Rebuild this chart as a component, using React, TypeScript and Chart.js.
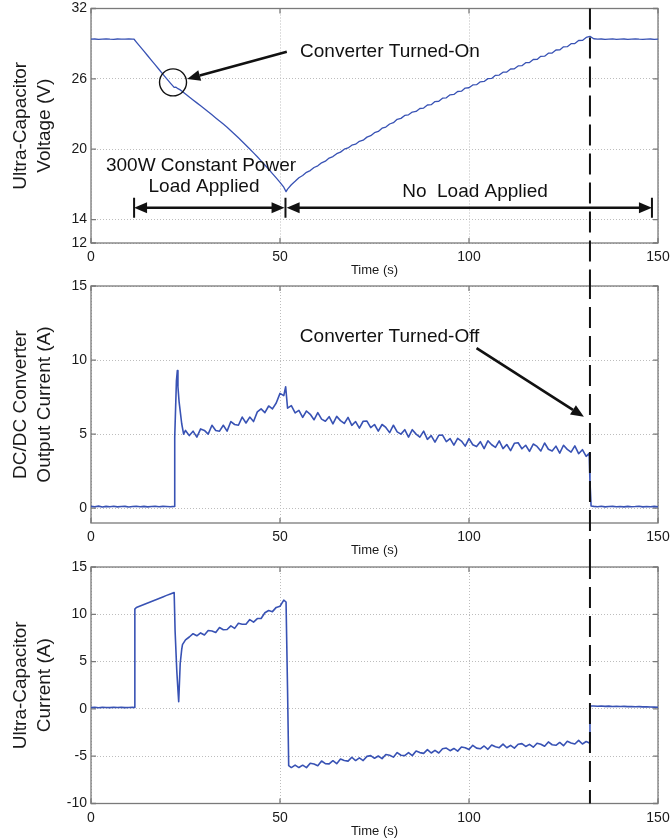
import React, { useEffect, useRef } from 'react';
import { Chart, registerables } from 'chart.js';

Chart.register(...registerables);

const FONT = '"Liberation Sans", Arial, Helvetica, sans-serif';
const LINE_COLOR = '#3852b4';
const INK = '#111111';

// ---- axis ticks ----
const timeTicks = [0, 50, 100, 150];
const voltageTicks = [12, 14, 20, 26, 32];
const outCurrentTicks = [0, 5, 10, 15];
const ucCurrentTicks = [-10, -5, 0, 5, 10, 15];

const turnOffTime = 132;

// ---- ultra-capacitor voltage (V), samples at t = 0,1,...,150 s ----
const ucVoltage = [
  29.38, 29.40, 29.37, 29.39, 29.41, 29.38, 29.37, 29.40, 29.39, 29.38, 29.41, 29.38,
  29.14, 28.75, 28.36, 27.97, 27.58, 27.19, 26.80, 26.41, 26.02, 25.64,
  25.27, 25.16, 24.96, 24.70, 24.45, 24.20, 23.95, 23.70, 23.45, 23.19,
  22.93, 22.67, 22.41, 22.14, 21.87, 21.58, 21.28, 20.97, 20.66, 20.34,
  20.02, 19.69, 19.35, 19.00, 18.65, 18.29, 17.92, 17.55, 17.17, 16.76,
  16.60, 16.97, 17.26, 17.57, 17.76, 18.03, 18.18, 18.44, 18.58, 18.84,
  18.98, 19.24, 19.37, 19.62, 19.75, 20.00, 20.11, 20.34, 20.43, 20.67,
  20.77, 21.03, 21.15, 21.41, 21.52, 21.79, 21.89, 22.15, 22.26, 22.55,
  22.63, 22.88, 22.93, 23.17, 23.22, 23.47, 23.51, 23.77, 23.80, 24.06,
  24.09, 24.35, 24.38, 24.64, 24.67, 24.92, 24.95, 25.21, 25.24, 25.48,
  25.50, 25.75, 25.78, 26.02, 26.04, 26.30, 26.32, 26.57, 26.58, 26.84,
  26.86, 27.10, 27.12, 27.38, 27.39, 27.65, 27.66, 27.92, 27.93, 28.19,
  28.20, 28.46, 28.47, 28.73, 28.74, 29.00, 29.01, 29.27, 29.28, 29.53,
  29.62, 29.42, 29.38, 29.40, 29.37, 29.39, 29.41, 29.36, 29.38, 29.40,
  29.37, 29.39, 29.41, 29.38, 29.36, 29.39, 29.40, 29.37, 29.38,
];
const ucVoltageExtraT = [11.4, 22.4, 23.5, 51.6];
const ucVoltageExtraV = [29.38, 25.30, 25.08, 16.38];

// ---- DC/DC converter output current (A), t = 0..150 s ----
const outCurrent = [
  0.12, 0.10, 0.14, 0.08, 0.12, 0.10, 0.13, 0.09, 0.11, 0.12,
  0.08, 0.11, 0.13, 0.10, 0.12, 0.09, 0.11, 0.13, 0.10, 0.12,
  0.11, 0.10, 0.12, 8.20, 5.70, 5.25, 4.90, 5.20, 4.80, 5.35,
  5.25, 5.00, 5.60, 5.25, 5.20, 5.60, 5.20, 5.85, 5.65, 5.60,
  6.15, 5.75, 6.15, 5.85, 6.50, 6.70, 6.45, 6.90, 6.70, 7.10,
  7.75, 7.60, 6.75, 6.92, 6.43, 6.60, 6.13, 6.56, 6.34, 5.97,
  6.45, 6.01, 5.87, 6.18, 5.69, 6.20, 5.91, 5.72, 6.13, 5.59,
  5.85, 5.41, 5.87, 5.88, 5.44, 5.65, 5.20, 5.65, 5.45, 5.10,
  5.60, 5.15, 5.00, 5.30, 4.80, 5.30, 5.00, 4.80, 5.20, 4.65,
  4.90, 4.46, 4.92, 4.93, 4.49, 4.70, 4.26, 4.72, 4.53, 4.19,
  4.70, 4.28, 4.16, 4.49, 4.02, 4.55, 4.28, 4.11, 4.54, 4.02,
  4.30, 3.89, 4.38, 4.42, 4.01, 4.25, 3.84, 4.33, 4.17, 3.86,
  4.40, 3.98, 3.86, 4.19, 3.72, 4.25, 3.97, 3.79, 4.21, 3.68,
  3.95, 3.50, 1.80, 0.12, 0.10, 0.13, 0.09, 0.11, 0.12, 0.10,
  0.11, 0.09, 0.12, 0.10, 0.11, 0.13, 0.09, 0.11, 0.10, 0.12, 0.10,
];
const outCurrentExtraT = [22.15, 22.6, 22.85, 23.3, 24.5, 51.5, 131.8, 132.3];
const outCurrentExtraV = [4.8, 8.6, 9.3, 7.2, 5.0, 8.2, 3.7, 0.15];

// ---- ultra-capacitor current (A), t = 0..150 s ----
const ucCurrent = [
  0.14, 0.17, 0.12, 0.16, 0.15, 0.13, 0.17, 0.14, 0.16, 0.13,
  0.15, 0.16, 10.72, 10.88, 11.04, 11.20, 11.36, 11.52, 11.68, 11.84,
  12.00, 12.15, 12.30, 2.00, 6.30, 7.30, 7.60, 7.95, 7.73, 8.03,
  7.81, 8.28, 8.24, 8.08, 8.60, 8.37, 8.39, 8.77, 8.51, 9.05,
  8.95, 8.95, 9.44, 9.17, 9.55, 9.56, 10.16, 10.40, 10.28, 10.73,
  10.85, 11.50, 2.00, -6.20, -5.94, -6.20, -5.95, -6.21, -5.75, -5.82,
  -6.00, -5.51, -5.78, -5.81, -5.48, -5.79, -5.30, -5.45, -5.52, -5.11,
  -5.46, -5.18, -5.46, -5.02, -4.94, -5.22, -4.98, -5.26, -4.82, -4.90,
  -5.10, -4.62, -4.90, -4.94, -4.62, -4.94, -4.46, -4.62, -4.70, -4.30,
  -4.66, -4.38, -4.66, -4.22, -4.14, -4.42, -4.18, -4.46, -4.02, -4.10,
  -4.30, -3.85, -4.15, -4.22, -3.92, -4.27, -3.81, -4.00, -4.10, -3.73,
  -4.11, -3.85, -4.15, -3.73, -3.67, -3.97, -3.75, -4.05, -3.63, -3.73,
  -3.95, -3.49, -3.79, -3.85, -3.55, -3.89, -3.43, -3.61, -3.71, -3.33,
  -3.71, -3.45, -1.50, 0.30, 0.28, 0.31, 0.27, 0.29, 0.26, 0.28,
  0.25, 0.27, 0.24, 0.26, 0.22, 0.24, 0.21, 0.23, 0.20, 0.19, 0.17,
];
const ucCurrentExtraT = [11.45, 11.6, 22.25, 22.7, 23.2, 23.6, 24.2, 51.6, 52.3, 131.85, 132.1];
const ucCurrentExtraV = [0.15, 10.55, 8.2, 4.0, 0.75, 4.8, 6.8, 11.3, -6.0, -3.6, 0.3];

function mergeSeries(grid: number[], extraT: number[], extraV: number[]) {
  const pts = grid.map((v, i) => ({ x: i, y: v }));
  extraT.forEach((t, i) => pts.push({ x: t, y: extraV[i] }));
  pts.sort((a, b) => a.x - b.x);
  return pts;
}

function arrowHead(ctx: CanvasRenderingContext2D, x1: number, y1: number, x2: number, y2: number, len: number, half: number) {
  const ang = Math.atan2(y2 - y1, x2 - x1);
  const bx = x2 - len * Math.cos(ang);
  const by = y2 - len * Math.sin(ang);
  ctx.beginPath();
  ctx.moveTo(x2, y2);
  ctx.lineTo(bx + half * Math.sin(ang), by - half * Math.cos(ang));
  ctx.lineTo(bx - half * Math.sin(ang), by + half * Math.cos(ang));
  ctx.closePath();
  ctx.fill();
  return { bx, by };
}

function drawArrow(ctx: CanvasRenderingContext2D, x1: number, y1: number, x2: number, y2: number, len: number, half: number, width: number) {
  const { bx, by } = arrowHead(ctx, x1, y1, x2, y2, len, half);
  ctx.beginPath();
  ctx.lineWidth = width;
  ctx.moveTo(x1, y1);
  ctx.lineTo(bx, by);
  ctx.stroke();
}

function drawDoubleArrow(ctx: CanvasRenderingContext2D, xa: number, xb: number, y: number) {
  const len = 13, half = 5.5;
  ctx.beginPath();
  ctx.lineWidth = 2.5;
  ctx.moveTo(xa + len - 1, y);
  ctx.lineTo(xb - len + 1, y);
  ctx.stroke();
  arrowHead(ctx, xb, y, xa, y, len, half);
  arrowHead(ctx, xa, y, xb, y, len, half);
}

type Overlay = (chart: any, ctx: CanvasRenderingContext2D) => void;

const overlayVoltage: Overlay = (chart, ctx) => {
  const X = (v: number) => chart.scales.x.getPixelForValue(v);
  const Y = (v: number) => chart.scales.y.getPixelForValue(v);
  ctx.fillStyle = INK;
  ctx.strokeStyle = INK;
  ctx.beginPath();
  ctx.lineWidth = 1.4;
  ctx.arc(X(21.7), Y(25.7), 13.5, 0, Math.PI * 2);
  ctx.stroke();
  drawArrow(ctx, X(51.8), Y(28.32), X(25.45), Y(25.99), 13, 5.5, 2.6);
  ctx.font = `19px ${FONT}`;
  ctx.textAlign = 'center';
  ctx.textBaseline = 'middle';
  ctx.fillText('Converter Turned-On', X(79.1), Y(28.29));
  ctx.fillText('300W Constant Power', X(29.1), Y(18.62));
  ctx.fillText('Load Applied', X(29.9), Y(16.78));
  ctx.fillText('No  Load Applied', X(101.6), Y(16.4));
  const yA = Y(15);
  drawDoubleArrow(ctx, X(11.4), X(51.2), yA);
  drawDoubleArrow(ctx, X(51.75), X(148.4), yA);
  ctx.lineWidth = 2;
  ctx.beginPath();
  for (const t of [11.4, 51.45, 148.4]) {
    ctx.moveTo(X(t), yA - 10);
    ctx.lineTo(X(t), yA + 10);
  }
  ctx.stroke();
};

const overlayOutCurrent: Overlay = (chart, ctx) => {
  const X = (v: number) => chart.scales.x.getPixelForValue(v);
  const Y = (v: number) => chart.scales.y.getPixelForValue(v);
  ctx.fillStyle = INK;
  ctx.strokeStyle = INK;
  ctx.font = `19px ${FONT}`;
  ctx.textAlign = 'center';
  ctx.textBaseline = 'middle';
  ctx.fillText('Converter Turned-Off', X(79), Y(11.56));
  drawArrow(ctx, X(102), Y(10.8), X(130.4), Y(6.17), 13, 5.5, 2.6);
};

interface PanelProps {
  top: number;
  height: number;
  padTop: number;
  axisHeight: number;
  yMin: number;
  yMax: number;
  yTicks: number[];
  yTitle: string[];
  points: { x: number; y: number }[];
  lineWidth: number;
  dash: 'top' | 'full' | 'bottom';
  overlay?: Overlay;
}

function Panel(p: PanelProps) {
  const ref = useRef<HTMLCanvasElement>(null);
  useEffect(() => {
    const canvas = ref.current;
    if (!canvas) return;
    const plugin = {
      id: 'frameAndNotes',
      beforeDatasetsDraw(chart: any) {
        const { ctx, chartArea: a, scales } = chart;
        ctx.save();
        ctx.strokeStyle = '#7a7a7a';
        ctx.lineWidth = 1.3;
        ctx.beginPath();
        for (const v of timeTicks) {
          const x = scales.x.getPixelForValue(v);
          ctx.moveTo(x, a.bottom); ctx.lineTo(x, a.bottom - 5);
          ctx.moveTo(x, a.top); ctx.lineTo(x, a.top + 5);
        }
        for (const v of p.yTicks) {
          const y = scales.y.getPixelForValue(v);
          ctx.moveTo(a.left, y); ctx.lineTo(a.left + 5, y);
          ctx.moveTo(a.right, y); ctx.lineTo(a.right - 5, y);
        }
        ctx.stroke();
        ctx.strokeRect(a.left, a.top, a.right - a.left, a.bottom - a.top);
        ctx.restore();
      },
      afterDatasetsDraw(chart: any) {
        const { ctx, chartArea: a, scales } = chart;
        ctx.save();
        const x = scales.x.getPixelForValue(turnOffTime);
        const y0 = p.dash === 'top' ? a.top : 0;
        const y1 = p.dash === 'bottom' ? a.bottom : chart.height;
        ctx.strokeStyle = INK;
        ctx.lineWidth = 2;
        ctx.setLineDash([21, 8]);
        ctx.beginPath();
        ctx.moveTo(x, y0);
        ctx.lineTo(x, y1);
        ctx.stroke();
        ctx.setLineDash([]);
        if (p.overlay) p.overlay(chart, ctx);
        ctx.restore();
      },
    };
    const chart = new Chart(canvas, {
      type: 'line',
      data: {
        datasets: [
          {
            data: p.points,
            borderColor: LINE_COLOR,
            borderWidth: p.lineWidth,
            borderJoinStyle: 'round',
            pointRadius: 0,
            tension: 0,
            fill: false,
          },
        ],
      },
      options: {
        animation: false,
        responsive: false,
        maintainAspectRatio: false,
        parsing: false,
        normalized: true,
        layout: { padding: { top: p.padTop, right: 13, left: 0, bottom: 0 } },
        plugins: { legend: { display: false }, tooltip: { enabled: false } },
        scales: {
          x: {
            type: 'linear',
            min: 0,
            max: 150,
            afterBuildTicks: (s: any) => {
              s.ticks = timeTicks.map((v) => ({ value: v }));
            },
            afterFit: (s: any) => {
              s.height = p.axisHeight;
              s.paddingLeft = 0;
              s.paddingRight = 0;
            },
            ticks: {
              autoSkip: false,
              maxRotation: 0,
              padding: 6,
              color: '#1a1a1a',
              font: { family: FONT, size: 14 },
            },
            grid: { color: '#bdbdbd', lineWidth: 1, drawTicks: false },
            border: { display: false, dash: [1, 2] },
            title: {
              display: true,
              text: 'Time (s)',
              color: '#1a1a1a',
              font: { family: FONT, size: 13 },
              padding: { top: 0, bottom: 0 },
            },
          },
          y: {
            type: 'linear',
            min: p.yMin,
            max: p.yMax,
            afterBuildTicks: (s: any) => {
              s.ticks = p.yTicks.map((v) => ({ value: v }));
            },
            afterFit: (s: any) => {
              s.width = 91;
              s.paddingTop = 0;
              s.paddingBottom = 0;
            },
            ticks: {
              autoSkip: false,
              padding: 4,
              color: '#1a1a1a',
              font: { family: FONT, size: 14 },
            },
            grid: { color: '#bdbdbd', lineWidth: 1, drawTicks: false },
            border: { display: false, dash: [1, 2] },
            title: {
              display: true,
              text: p.yTitle,
              color: '#1a1a1a',
              font: { family: FONT, size: 19, lineHeight: 1.25 },
              padding: { top: 9, bottom: 0 },
            },
          },
        },
      },
      plugins: [plugin],
    } as any);
    return () => chart.destroy();
  }, []);
  return (
    <canvas
      ref={ref}
      width={671}
      height={p.height}
      style={{ position: 'absolute', left: 0, top: p.top, width: 671, height: p.height, display: 'block' }}
    />
  );
}

export default function App() {
  const voltagePts = mergeSeries(ucVoltage, ucVoltageExtraT, ucVoltageExtraV);
  const outPts = mergeSeries(outCurrent, outCurrentExtraT, outCurrentExtraV);
  const ucPts = mergeSeries(ucCurrent, ucCurrentExtraT, ucCurrentExtraV);
  return (
    <div style={{ position: 'fixed', left: 0, top: 0, width: 671, height: 839, background: '#ffffff', overflow: 'hidden' }}>
      <Panel
        top={0}
        height={278}
        padTop={8.5}
        axisHeight={35}
        yMin={12}
        yMax={32}
        yTicks={voltageTicks}
        yTitle={['Ultra-Capacitor', 'Voltage (V)']}
        points={voltagePts}
        lineWidth={1.3}
        dash="top"
        overlay={overlayVoltage}
      />
      <Panel
        top={278}
        height={280}
        padTop={8}
        axisHeight={35}
        yMin={-1}
        yMax={15}
        yTicks={outCurrentTicks}
        yTitle={['DC/DC Converter', 'Output Current (A)']}
        points={outPts}
        lineWidth={1.6}
        dash="full"
        overlay={overlayOutCurrent}
      />
      <Panel
        top={558}
        height={281}
        padTop={9}
        axisHeight={35.5}
        yMin={-10}
        yMax={15}
        yTicks={ucCurrentTicks}
        yTitle={['Ultra-Capacitor', 'Current (A)']}
        points={ucPts}
        lineWidth={1.6}
        dash="bottom"
      />
    </div>
  );
}
